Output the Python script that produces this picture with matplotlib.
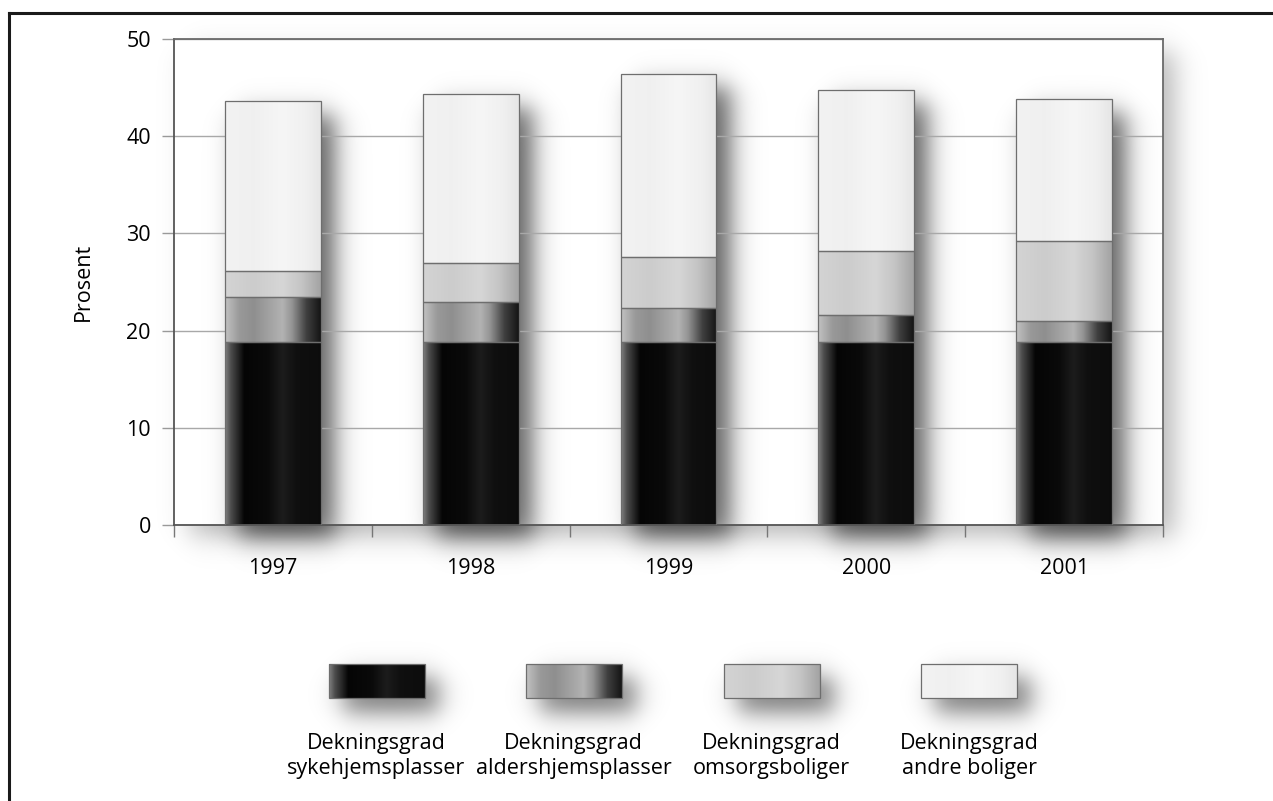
import matplotlib
matplotlib.use("Agg")
import matplotlib.pyplot as plt
import numpy as np
from matplotlib.lines import Line2D
from matplotlib.patches import Rectangle

plt.rcParams['font.family'] = ['Open Sans', 'DejaVu Sans']

# data (percent)
years = ['1997', '1998', '1999', '2000', '2001']
sykehjem = [18.8, 18.8, 18.8, 18.8, 18.8]
aldershjem = [4.7, 4.1, 3.5, 2.8, 2.2]
omsorg = [2.6, 4.1, 5.3, 6.6, 8.2]
andre = [17.5, 17.3, 18.8, 16.6, 14.6]
series_labels = ['Dekningsgrad\nsykehjemsplasser', 'Dekningsgrad\naldershjemsplasser',
                 'Dekningsgrad\nomsorgsboliger', 'Dekningsgrad\nandre boliger']
yticks = [0, 10, 20, 30, 40, 50]

# horizontal gradient stops (position across bar, gray level 0-1) for each series
gradients = [
    ([0.0, 0.06, 0.2, 0.45, 0.6, 0.75, 1.0], [0.50, 0.30, 0.02, 0.04, 0.11, 0.06, 0.05]),
    ([0.0, 0.15, 0.3, 0.6, 0.7, 0.85, 1.0], [0.76, 0.60, 0.56, 0.70, 0.58, 0.25, 0.08]),
    ([0.0, 0.3, 0.6, 0.8, 1.0], [0.83, 0.80, 0.84, 0.77, 0.64]),
    ([0.0, 0.3, 0.6, 0.85, 1.0], [0.95, 0.94, 0.965, 0.94, 0.90]),
]

FS = 15.5
W, H = 1273, 801
fig = plt.figure(figsize=(W / 100, H / 100), dpi=100)

# background axes in pixel units (frame, plot shadow, legend)
bg = fig.add_axes([0, 0, 1, 1], zorder=0)
bg.set_xlim(0, W)
bg.set_ylim(H, 0)
bg.axis('off')

ax_l, ax_r, ax_t, ax_b = 174, 1163, 39, 525
ax = fig.add_axes([ax_l / W, 1 - ax_b / H, (ax_r - ax_l) / W, (ax_b - ax_t) / H], zorder=1)
ax.set_xlim(-0.5, len(years) - 0.5)
ax.set_ylim(0, 50)

# data units per pixel
ux = len(years) / (ax_r - ax_l)
uy = 50 / (ax_b - ax_t)


def shadow(a, x0, x1, y0, y1, dx, dy, wx, wy, alpha, zorder):
    lo, hi = min(y0, y1) + dy, max(y0, y1) + dy
    xs = np.linspace(x0 + dx - 4 * wx, x1 + dx + 4 * wx, 220)
    ys = np.linspace(lo - 4 * wy, hi + 4 * wy, 220)
    fx = 0.5 * (np.tanh((xs - (x0 + dx)) / wx) - np.tanh((xs - (x1 + dx)) / wx))
    fy = 0.5 * (np.tanh((ys - lo) / wy) - np.tanh((ys - hi) / wy))
    img = np.zeros((len(ys), len(xs), 4))
    img[..., 3] = alpha * np.outer(fy, fx)
    im = a.imshow(img, extent=(xs[0], xs[-1], ys[0], ys[-1]), origin='lower',
                  aspect='auto', interpolation='bilinear', zorder=zorder)
    im.set_clip_on(False)


def gradient_fill(a, patch, stops, zorder):
    x0, y0 = patch.get_x(), patch.get_y()
    x1, y1 = x0 + patch.get_width(), y0 + patch.get_height()
    t = np.linspace(0, 1, 200)
    g = np.interp(t, stops[0], stops[1])
    img = np.repeat(g[None, :, None], 3, axis=2)
    im = a.imshow(img, extent=(x0, x1, y0, y1), origin='lower', aspect='auto',
                  interpolation='bilinear', zorder=zorder)
    im.set_clip_path(patch)


# outer frame (top and left edges)
bg.add_line(Line2D([9, 9], [H, 13], color='#1a1a1a', lw=2.2))
bg.add_line(Line2D([9, W], [13, 13], color='#1a1a1a', lw=2.2))

# plot area shadow
shadow(bg, ax_l, ax_r, ax_t, ax_b, 14, 12, 16, 16, 0.28, 0.5)

# stacked bars
x = np.arange(len(years))
width = 0.485
stack = [sykehjem, aldershjem, omsorg, andre]
bottoms = np.zeros(len(years))
bar_groups = []
for vals in stack:
    bars = ax.bar(x, vals, width=width, bottom=bottoms, facecolor='none',
                  edgecolor='#6e6e6e', linewidth=0.9, zorder=3)
    bar_groups.append(bars)
    bottoms = bottoms + np.array(vals)

# column shadows
for i in range(len(years)):
    shadow(ax, x[i] - width / 2, x[i] + width / 2, 0, bottoms[i],
           14 * ux, -13 * uy, 15 * ux, 15 * uy, 0.62, 0.3)

for bars, stops in zip(bar_groups, gradients):
    for p in bars:
        gradient_fill(ax, p, stops, 2)

ax.set_xlim(-0.5, len(years) - 0.5)
ax.set_ylim(0, 50)

# axes styling
ax.set_axisbelow(True)
ax.yaxis.grid(True, color='#a8a8a8', linewidth=1.0)
ax.set_yticks(yticks)
ax.set_xticks(x)
ax.set_xticklabels(years)
ax.set_xticks(np.arange(-0.5, len(years)), minor=True)
ax.tick_params(axis='x', which='major', length=0, pad=24, labelsize=FS)
ax.tick_params(axis='x', which='minor', length=8.6, width=1.0, color='#777777', direction='out')
ax.tick_params(axis='y', length=8.6, width=1.0, color='#999999', pad=8, labelsize=FS)
for side in ['left', 'bottom']:
    ax.spines[side].set_color('#555555')
    ax.spines[side].set_linewidth(1.3)
for side in ['top', 'right']:
    ax.spines[side].set_color('#6a6a6a')
    ax.spines[side].set_linewidth(1.3)

fig.text(83 / W, 1 - 282 / H, 'Prosent', rotation=90, ha='center', va='center', fontsize=FS)

# legend
leg_centers = [376.5, 573.5, 771.5, 969]
sw_w, sw_top, sw_bot = 96, 664, 698
for cx, stops, label in zip(leg_centers, gradients, series_labels):
    shadow(bg, cx - sw_w / 2, cx + sw_w / 2, sw_top, sw_bot, 14, 14, 15, 15, 0.55, 1)
    r = Rectangle((cx - sw_w / 2, sw_top), sw_w, sw_bot - sw_top, facecolor='none',
                  edgecolor='#6e6e6e', linewidth=0.9, zorder=3)
    bg.add_patch(r)
    gradient_fill(bg, r, stops, 2)
    bg.text(cx, 756, label, ha='center', va='center', fontsize=FS, linespacing=1.25)

bg.set_xlim(0, W)
bg.set_ylim(H, 0)

fig.savefig('out.png', dpi=100)
